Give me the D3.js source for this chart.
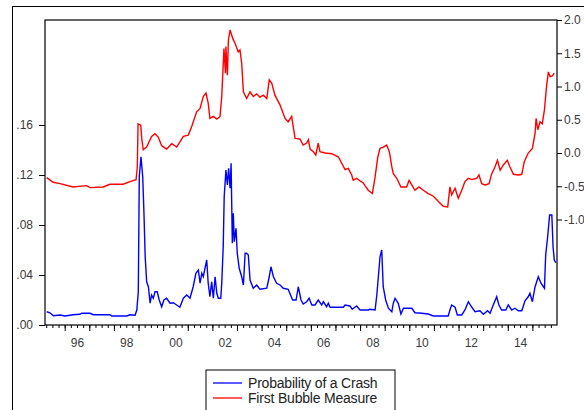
<!DOCTYPE html>
<html>
<head>
<meta charset="utf-8">
<script src="https://cdn.jsdelivr.net/npm/d3@7"></script>
<style>
    body { margin: 0; background: #fff; }
    svg { display: block; font-family: "Liberation Sans", Arial, sans-serif; }
</style>
</head>
<body>
<svg id="chart" width="584" height="410"></svg>
<script>
// Probability of a Crash (left axis)
var crashDates = [1995.27, 1995.40, 1995.54, 1995.81, 1996.01, 1996.35, 1996.62, 1996.69, 1997.03, 1997.16,
    1997.84, 1997.91, 1998.52, 1998.65, 1998.86, 1998.93, 1998.99, 1999.03, 1999.10, 1999.17,
    1999.22, 1999.27, 1999.33, 1999.40, 1999.47, 1999.53, 1999.60, 1999.67, 1999.76, 1999.84,
    1999.94, 2000.03, 2000.14, 2000.28, 2000.41, 2000.55, 2000.68, 2000.82, 2000.96, 2001.09,
    2001.22, 2001.33, 2001.43, 2001.50, 2001.57, 2001.63, 2001.70, 2001.77, 2001.83, 2001.90,
    2001.97, 2002.04, 2002.11, 2002.18, 2002.24, 2002.34, 2002.38, 2002.44, 2002.48, 2002.55,
    2002.61, 2002.66, 2002.72, 2002.76, 2002.81, 2002.85, 2002.89, 2002.96, 2003.01, 2003.09,
    2003.19, 2003.26, 2003.33, 2003.39, 2003.46, 2003.53, 2003.66, 2003.80, 2003.93, 2004.21,
    2004.31, 2004.38, 2004.48, 2004.61, 2004.75, 2004.88, 2005.08, 2005.26, 2005.40, 2005.49,
    2005.60, 2005.69, 2005.83, 2005.93, 2006.04, 2006.17, 2006.30, 2006.44, 2006.51, 2006.64,
    2006.71, 2006.78, 2007.32, 2007.39, 2007.59, 2007.68, 2007.86, 2008.00, 2008.33, 2008.40,
    2008.61, 2008.68, 2008.81, 2008.88, 2008.94, 2009.04, 2009.15, 2009.29, 2009.35, 2009.42,
    2009.55, 2009.66, 2009.76, 2010.10, 2010.23, 2010.50, 2010.77, 2010.98, 2011.32, 2011.58,
    2011.65, 2011.72, 2011.86, 2011.95, 2012.13, 2012.26, 2012.40, 2012.54, 2012.67, 2012.87,
    2013.01, 2013.18, 2013.28, 2013.41, 2013.55, 2013.64, 2013.75, 2013.92, 2014.02, 2014.16,
    2014.29, 2014.43, 2014.57, 2014.70, 2014.83, 2014.90, 2015.00, 2015.11, 2015.24, 2015.35,
    2015.49, 2015.54, 2015.62, 2015.70, 2015.79, 2015.84, 2015.89, 2015.95];
var crashValues = [0.0106, 0.0098, 0.0074, 0.0080, 0.0072, 0.0082, 0.0086, 0.0094, 0.0094, 0.0082,
    0.0082, 0.0072, 0.0072, 0.0082, 0.0078, 0.0120, 0.0266, 0.1186, 0.1346, 0.1186,
    0.0894, 0.0546, 0.0346, 0.0306, 0.0174, 0.0240, 0.0214, 0.0266, 0.0266, 0.0200,
    0.0146, 0.0200, 0.0214, 0.0174, 0.0178, 0.0160, 0.0142, 0.0214, 0.0240, 0.0214,
    0.0306, 0.0414, 0.0440, 0.0334, 0.0414, 0.0386, 0.0454, 0.0520, 0.0334, 0.0226,
    0.0346, 0.0214, 0.0386, 0.0254, 0.0214, 0.0214, 0.0334, 0.0626, 0.1026, 0.1240,
    0.1120, 0.1254, 0.1094, 0.1294, 0.0654, 0.0894, 0.0666, 0.0774, 0.0574, 0.0454,
    0.0386, 0.0320, 0.0574, 0.0574, 0.0560, 0.0360, 0.0294, 0.0320, 0.0286, 0.0294,
    0.0386, 0.0466, 0.0386, 0.0334, 0.0320, 0.0294, 0.0286, 0.0200, 0.0200, 0.0306,
    0.0200, 0.0168, 0.0186, 0.0214, 0.0160, 0.0160, 0.0200, 0.0160, 0.0186, 0.0146,
    0.0174, 0.0142, 0.0142, 0.0160, 0.0152, 0.0126, 0.0152, 0.0120, 0.0120, 0.0126,
    0.0120, 0.0240, 0.0546, 0.0600, 0.0306, 0.0200, 0.0134, 0.0106, 0.0174, 0.0214,
    0.0174, 0.0088, 0.0134, 0.0134, 0.0098, 0.0094, 0.0088, 0.0072, 0.0072, 0.0072,
    0.0120, 0.0160, 0.0142, 0.0080, 0.0080, 0.0120, 0.0186, 0.0142, 0.0106, 0.0114,
    0.0086, 0.0114, 0.0094, 0.0160, 0.0226, 0.0160, 0.0120, 0.0120, 0.0160, 0.0120,
    0.0134, 0.0114, 0.0114, 0.0194, 0.0226, 0.0254, 0.0186, 0.0306, 0.0386, 0.0334,
    0.0294, 0.0560, 0.0706, 0.0880, 0.0880, 0.0626, 0.0520, 0.0498];

// First Bubble Measure (right axis)
var bubbleDates = [1995.27, 1995.53, 1995.81, 1996.34, 1996.89, 1997.03, 1997.56, 1997.84, 1998.37, 1998.65,
    1998.90, 1998.95, 1998.98, 1999.09, 1999.13, 1999.19, 1999.33, 1999.53, 1999.67, 1999.80,
    1999.94, 2000.14, 2000.35, 2000.55, 2000.82, 2001.02, 2001.16, 2001.36, 2001.50, 2001.63,
    2001.74, 2001.83, 2001.90, 2002.04, 2002.18, 2002.31, 2002.38, 2002.47, 2002.53, 2002.55,
    2002.61, 2002.65, 2002.72, 2002.83, 2002.92, 2003.05, 2003.12, 2003.19, 2003.26, 2003.39,
    2003.53, 2003.66, 2003.80, 2003.93, 2004.07, 2004.21, 2004.31, 2004.41, 2004.54, 2004.75,
    2004.95, 2005.08, 2005.22, 2005.36, 2005.56, 2005.69, 2005.83, 2005.90, 2005.97, 2006.10,
    2006.20, 2006.30, 2006.37, 2006.58, 2006.85, 2007.12, 2007.25, 2007.39, 2007.52, 2007.66,
    2007.72, 2007.86, 2008.00, 2008.13, 2008.20, 2008.33, 2008.50, 2008.61, 2008.72, 2008.81,
    2008.94, 2009.08, 2009.19, 2009.29, 2009.35, 2009.49, 2009.66, 2009.89, 2009.99, 2010.10,
    2010.23, 2010.39, 2010.57, 2010.77, 2010.98, 2011.18, 2011.38, 2011.56, 2011.65, 2011.72,
    2011.86, 2011.99, 2012.13, 2012.26, 2012.40, 2012.54, 2012.74, 2012.83, 2012.94, 2013.08,
    2013.24, 2013.35, 2013.48, 2013.58, 2013.69, 2013.82, 2013.98, 2014.09, 2014.23, 2014.43,
    2014.57, 2014.67, 2014.83, 2015.00, 2015.11, 2015.15, 2015.22, 2015.31, 2015.40, 2015.49,
    2015.58, 2015.65, 2015.72, 2015.81, 2015.89];
var bubbleValues = [-0.37, -0.44, -0.46, -0.51, -0.49, -0.52, -0.51, -0.47, -0.47, -0.43,
    -0.40, -0.21, 0.44, 0.42, 0.22, 0.05, 0.09, 0.25, 0.29, 0.24,
    0.11, 0.06, 0.14, 0.09, 0.25, 0.27, 0.40, 0.62, 0.67, 0.85,
    0.90, 0.75, 0.52, 0.55, 0.51, 0.55, 0.85, 1.57, 1.20, 1.60,
    1.17, 1.70, 1.85, 1.72, 1.65, 1.52, 1.55, 1.35, 0.92, 0.82,
    0.92, 0.85, 0.89, 0.84, 0.87, 0.82, 1.10, 1.05, 0.87, 0.72,
    0.52, 0.47, 0.55, 0.22, 0.21, 0.12, 0.15, 0.20, 0.06, 0.02,
    -0.03, 0.15, 0.02, 0.00, -0.01, -0.06, -0.15, -0.25, -0.23, -0.33,
    -0.41, -0.38, -0.42, -0.45, -0.49, -0.56, -0.61, -0.36, -0.06, 0.07,
    0.09, 0.12, 0.02, -0.21, -0.31, -0.38, -0.51, -0.51, -0.41, -0.48,
    -0.56, -0.51, -0.56, -0.61, -0.65, -0.73, -0.80, -0.81, -0.51, -0.63,
    -0.53, -0.68, -0.56, -0.43, -0.38, -0.40, -0.38, -0.33, -0.46, -0.48,
    -0.46, -0.31, -0.21, -0.11, -0.26, -0.18, -0.11, -0.21, -0.32, -0.33,
    -0.32, -0.13, 0.00, 0.07, 0.30, 0.52, 0.35, 0.47, 0.44, 0.65,
    1.02, 1.22, 1.15, 1.16, 1.20];

var leftTicks = [0, 0.04, 0.08, 0.12, 0.16];
var rightTicks = [-1.0, -0.5, 0.0, 0.5, 1.0, 1.5, 2.0];
var yearLabels = [1996, 1998, 2000, 2002, 2004, 2006, 2008, 2010, 2012, 2014];
var legendNames = ['Probability of a Crash', 'First Bubble Measure'];
var seriesColors = ['#0000ff', '#ff0000'];

var plot = { left: 45, right: 557, top: 20, bottom: 325 };
var svg = d3.select('#chart');

var xScale = d3.scaleLinear().domain([1995.2, 2016.0]).range([plot.left, plot.right]);
var yLeft = d3.scaleLinear().domain([0, 0.244]).range([plot.bottom, plot.top]);
var yRight = d3.scaleLinear().domain([-2.586, 2.0]).range([plot.bottom, plot.top]);

// outer frame (runs off the right and bottom of the picture)
svg.append('rect')
    .attr('x', 12.5).attr('y', 6.5)
    .attr('width', 600).attr('height', 420)
    .attr('fill', 'none').attr('stroke', '#000').attr('stroke-width', 1);

function styleAxis(g) {
    g.select('.domain').remove();
    g.selectAll('.tick line').attr('stroke', '#000');
    g.selectAll('.tick text')
        .attr('fill', '#3a3a3a')
        .style('font-size', '12px')
        .style('font-family', '"Liberation Sans", Arial, sans-serif');
}

// left axis
svg.append('g')
    .attr('transform', 'translate(' + plot.left + ',0)')
    .call(d3.axisLeft(yLeft).tickValues(leftTicks).tickSize(6).tickPadding(6)
        .tickFormat(function (d) { return d.toFixed(2).replace(/^0/, ''); }))
    .call(styleAxis);

// right axis
svg.append('g')
    .attr('transform', 'translate(' + plot.right + ',0)')
    .call(d3.axisRight(yRight).tickValues(rightTicks).tickSize(5).tickPadding(2)
        .tickFormat(function (d) { return d.toFixed(1); }))
    .call(styleAxis);

// bottom axis: quarter ticks, year ticks, labels in the middle of each year
var quarterTicks = d3.range(1995.25, 2016.0, 0.25);
var yearTicks = d3.range(1996, 2016, 1);
svg.append('g')
    .attr('transform', 'translate(0,' + plot.bottom + ')')
    .call(d3.axisBottom(xScale).tickValues(quarterTicks).tickSize(3).tickFormat(''))
    .call(styleAxis);
svg.append('g')
    .attr('transform', 'translate(0,' + plot.bottom + ')')
    .call(d3.axisBottom(xScale).tickValues(yearTicks).tickSize(6).tickFormat(''))
    .call(styleAxis);
svg.append('g')
    .attr('transform', 'translate(0,' + plot.bottom + ')')
    .call(d3.axisBottom(xScale).tickValues(yearLabels.map(function (y) { return y + 0.5; }))
        .tickSize(0).tickPadding(13)
        .tickFormat(function (d) { return String(Math.floor(d)).slice(2); }))
    .call(styleAxis);

// series
var crashLine = d3.line()
    .x(function (d, i) { return xScale(crashDates[i]); })
    .y(function (d) { return yLeft(d); });
var bubbleLine = d3.line()
    .x(function (d, i) { return xScale(bubbleDates[i]); })
    .y(function (d) { return yRight(d); });

svg.append('path')
    .datum(bubbleValues)
    .attr('d', bubbleLine)
    .attr('fill', 'none').attr('stroke', seriesColors[1]).attr('stroke-width', 1.4);
svg.append('path')
    .datum(crashValues)
    .attr('d', crashLine)
    .attr('fill', 'none').attr('stroke', seriesColors[0]).attr('stroke-width', 1.4);

// plot frame
svg.append('rect')
    .attr('x', plot.left).attr('y', plot.top)
    .attr('width', plot.right - plot.left).attr('height', plot.bottom - plot.top)
    .attr('fill', 'none').attr('stroke', '#000').attr('stroke-width', 1.2);

// legend
var legend = svg.append('g').attr('transform', 'translate(206,370)');
legend.append('rect')
    .attr('width', 189).attr('height', 60)
    .attr('fill', '#fff').attr('stroke', '#000').attr('stroke-width', 1);
legendNames.forEach(function (name, i) {
    var y = 13 + i * 15;
    legend.append('line')
        .attr('x1', 7).attr('x2', 36).attr('y1', y).attr('y2', y)
        .attr('stroke', seriesColors[i]).attr('stroke-width', 1.3);
    legend.append('text')
        .attr('x', 42).attr('y', y + 5)
        .attr('fill', '#222')
        .style('font-size', '14px')
        .style('letter-spacing', '-0.2px')
        .text(name);
});
</script>
</body>
</html>
